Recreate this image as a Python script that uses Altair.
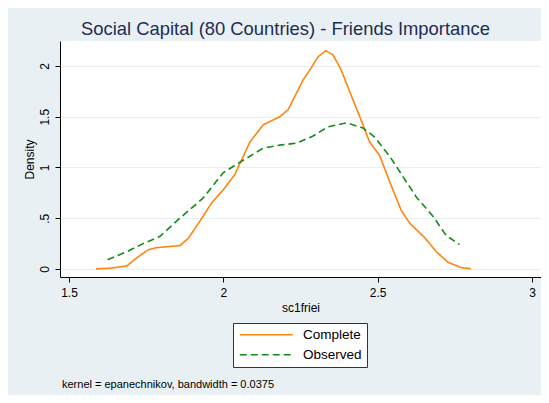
import altair as alt
import pandas as pd

complete_x = [1.587, 1.640, 1.687, 1.724, 1.757, 1.784, 1.859, 1.886, 1.924, 1.962, 2.000, 2.037,
              2.086, 2.129, 2.183, 2.210, 2.258, 2.280, 2.307, 2.332, 2.355, 2.382, 2.409, 2.442,
              2.474, 2.506, 2.539, 2.576, 2.604, 2.652, 2.690, 2.728, 2.771, 2.803]
complete_y = [0.0, 0.01, 0.03, 0.12, 0.19, 0.21, 0.23, 0.30, 0.47, 0.65, 0.78, 0.93,
              1.25, 1.42, 1.50, 1.57, 1.86, 1.96, 2.09, 2.15, 2.11, 1.96, 1.75, 1.50,
              1.25, 1.12, 0.86, 0.58, 0.45, 0.31, 0.17, 0.066, 0.013, 0.003]

observed_x = [1.625, 1.687, 1.740, 1.794, 1.859, 1.935, 2.000, 2.053, 2.129, 2.183, 2.237,
              2.291, 2.339, 2.399, 2.452, 2.490, 2.539, 2.582, 2.625, 2.679, 2.722, 2.765]
observed_y = [0.09, 0.17, 0.25, 0.32, 0.50, 0.70, 0.95, 1.05, 1.19, 1.22, 1.24,
              1.31, 1.40, 1.44, 1.39, 1.30, 1.11, 0.91, 0.71, 0.52, 0.33, 0.24]

series_names = ["Complete", "Observed"]
series_colors = ["#FF8410", "#168A16"]
x_ticks = [1.5, 2, 2.5, 3]
y_ticks = [0, 0.5, 1, 1.5, 2]
title_text = "Social Capital (80 Countries) - Friends Importance"
note_text = "kernel = epanechnikov, bandwidth = 0.0375"

df = pd.concat([
    pd.DataFrame({"x": complete_x, "y": complete_y, "series": "Complete", "order": range(len(complete_x))}),
    pd.DataFrame({"x": observed_x, "y": observed_y, "series": "Observed", "order": range(len(observed_x))}),
])

FONT = "Liberation Sans"

legend = alt.Legend(
    title=None, orient="none", legendX=173, legendY=282,
    fillColor="white", strokeColor="#333333", padding=5,
    symbolType="M-5.3,0H5.3", symbolSize=100, symbolStrokeWidth=1.6,
    symbolOffset=21.5, labelOffset=30, labelFontSize=13.5, labelFont=FONT,
    labelColor="#000000", rowPadding=5,
)

lines = alt.Chart(df).mark_line(strokeWidth=1.6, clip=True).encode(
    x=alt.X("x:Q", title="sc1friei",
            scale=alt.Scale(domain=[1.4708, 3.0292], nice=False, zero=False),
            axis=alt.Axis(values=x_ticks, grid=False, labelExpr="datum.value == 1.5 ? '1.5' : datum.value == 2.5 ? '2.5' : format(datum.value, 'd')")),
    y=alt.Y("y:Q", title="Density",
            scale=alt.Scale(domain=[-0.079, 2.246], nice=False, zero=False),
            axis=alt.Axis(values=y_ticks, grid=True, labelAngle=-90, labelAlign="center",
                          labelBaseline="bottom",
                          labelExpr="datum.value == 0 ? '0' : datum.value == 0.5 ? '.5' : datum.value == 1.5 ? '1.5' : format(datum.value, 'd')")),
    color=alt.Color("series:N", scale=alt.Scale(domain=series_names, range=series_colors), legend=legend),
    strokeDash=alt.StrokeDash("series:N", scale=alt.Scale(domain=series_names, range=[[1, 0], [7, 4]]), legend=legend),
    order="order:Q",
)

note = alt.Chart(pd.DataFrame({"t": [note_text]})).mark_text(
    align="left", baseline="middle", fontSize=11, font=FONT, color="#000000"
).encode(text="t:N", x=alt.value(2), y=alt.value(344))

chart = alt.layer(lines, note).properties(
    width=481, height=236,
    autosize=alt.AutoSizeParams(type="none"),
    padding={"left": 52, "top": 33, "right": 0, "bottom": 118},
    background="#E8F0F3",
    title=alt.TitleParams(title_text, anchor="middle", dx=-15, fontSize=18.4, font=FONT,
                          fontWeight="normal", color="#1E2C55", offset=3),
).configure_view(fill="white", stroke=None).configure_axis(
    labelFont=FONT, titleFont=FONT, labelFontSize=12, titleFontSize=12,
    labelColor="#000000", titleColor="#000000", titleFontWeight="normal",
    domainColor="#000000", tickColor="#000000", tickSize=5, domainWidth=1,
    gridColor="#E6EEF1", gridWidth=1,
).configure_axisY(labelPadding=4, titlePadding=2).configure_axisX(labelPadding=5, titlePadding=4)

chart.save("out.html", embed_options={"renderer": "svg", "actions": False})
